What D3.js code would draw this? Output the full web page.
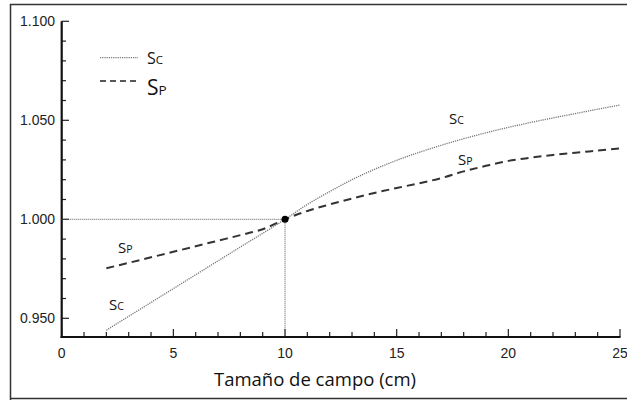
<!DOCTYPE html>
<html><head><meta charset="utf-8">
<script src="https://cdn.jsdelivr.net/npm/d3@7"></script>
<style>body{margin:0;background:#fff}svg{display:block}</style>
</head><body>
<svg id="c" width="627" height="400"></svg>
<script>
// Data
const scX = [2, 4, 6, 8, 10, 11, 12, 13, 14, 15, 16, 17, 18, 19, 20, 21, 22, 23, 24, 25];
const scY = [0.944, 0.958, 0.972, 0.986, 1.000, 1.0075, 1.0140, 1.0200, 1.0252, 1.0298, 1.0338, 1.0374, 1.0407, 1.0437, 1.0464, 1.0489, 1.0512, 1.0534, 1.0556, 1.0577];
const spX = [2, 3, 4, 5, 6, 7, 8, 9, 10, 11, 12, 13, 14, 15, 16, 17, 18, 19, 20, 21, 22, 23, 24, 25];
const spY = [0.9753, 0.9780, 0.9808, 0.9836, 0.9864, 0.9892, 0.9920, 0.9950, 1.000, 1.0042, 1.0075, 1.0105, 1.0133, 1.0158, 1.0182, 1.0208, 1.0242, 1.0270, 1.0295, 1.0311, 1.0325, 1.0336, 1.0347, 1.0358];
const xTicks = [0, 5, 10, 15, 20, 25];
const yTicks = [0.950, 1.000, 1.050, 1.100];
const refPoint = [10, 1.000];
const xLabel = "Tamaño de campo (cm)";

const svg = d3.select("#c");
// outer frame
svg.append("path").attr("d","M10.5,700 L10.5,4.5 L700,4.5 M10.5,398.5 L700,398.5")
  .attr("fill","none").attr("stroke","#333").attr("stroke-width",1.5);

const x = d3.scaleLinear().domain([0,25]).range([61.7,620]);
const y = d3.scaleLinear().domain([0.950,1.000]).range([318.3,219.3]);
const y1 = 1.100;

// minor ticks
const g = svg.append("g");
const xMinor = d3.range(0,26,1);
g.selectAll(".xm").data(xMinor).join("line")
  .attr("x1",d=>x(d)).attr("x2",d=>x(d)).attr("y1",337).attr("y2",d=>d%5===0?329:332)
  .attr("stroke","#222").attr("stroke-width",1.2);
const yMinor = d3.range(95,111,1).map(v=>v/100);
g.selectAll(".ym").data(yMinor).join("line")
  .attr("x1",61.7).attr("x2",d=>(Math.round(d*100)%5===0)?69:66).attr("y1",d=>y(d)).attr("y2",d=>y(d))
  .attr("stroke","#222").attr("stroke-width",1.2);

// axes lines
g.append("line").attr("x1",61.7).attr("x2",61.7).attr("y1",y(y1)).attr("y2",338).attr("stroke","#111").attr("stroke-width",2.2);
g.append("line").attr("x1",60.6).attr("x2",x(25)+0.5).attr("y1",337).attr("y2",337).attr("stroke","#111").attr("stroke-width",2.2);

// tick labels
g.selectAll(".xl").data(xTicks).join("text")
  .attr("x",d=>x(d)).attr("y",358).attr("text-anchor","middle")
  .attr("font-family","Liberation Sans, Arial, sans-serif").attr("font-size",14).attr("fill","#222")
  .text(d=>d);
g.selectAll(".yl").data(yTicks).join("text")
  .attr("x",55).attr("y",d=>y(d)+5).attr("text-anchor","end")
  .attr("font-family","Liberation Sans, Arial, sans-serif").attr("font-size",14).attr("fill","#222")
  .text(d=>d3.format(".3f")(d));

svg.append("text").attr("x",315).attr("y",386).attr("text-anchor","middle")
  .attr("font-family","Open Sans, Noto Sans, sans-serif").attr("font-size",18.5).attr("fill","#111")
  .text(xLabel);

// reference lines
svg.append("line").attr("x1",x(0)).attr("x2",x(refPoint[0])).attr("y1",y(refPoint[1])).attr("y2",y(refPoint[1]))
  .attr("stroke","#555").attr("stroke-width",1).attr("stroke-dasharray","1,1");
svg.append("line").attr("x1",x(refPoint[0])).attr("x2",x(refPoint[0])).attr("y1",y(refPoint[1])).attr("y2",337)
  .attr("stroke","#555").attr("stroke-width",1).attr("stroke-dasharray","1,1");

const line = d3.line().x(d=>x(d[0])).y(d=>y(d[1])).curve(d3.curveMonotoneX);
svg.append("path").attr("d",line(scX.map((v,i)=>[v,scY[i]])))
  .attr("fill","none").attr("stroke","#777").attr("stroke-width",1.3).attr("stroke-dasharray","1.2,1");
svg.append("path").attr("d",line(spX.map((v,i)=>[v,spY[i]])))
  .attr("fill","none").attr("stroke","#333").attr("stroke-width",2).attr("stroke-dasharray","8,5");

svg.append("circle").attr("cx",x(refPoint[0])).attr("cy",y(refPoint[1])).attr("r",3.5).attr("fill","#000");

// labels
function slabel(xp, yp, sub, big, small){
  const t = svg.append("text").attr("x",xp).attr("y",yp)
    .attr("font-family","Open Sans, Noto Sans, sans-serif").attr("fill","#111");
  t.append("tspan").attr("font-size",big).text("S");
  t.append("tspan").attr("font-size",small).text(sub);
}
slabel(109, 310, "C", 15, 10.5);
slabel(118, 253, "P", 15, 10.5);
slabel(449, 124, "C", 15, 10.5);
slabel(458, 165, "P", 15, 10.5);

// legend
svg.append("line").attr("x1",100).attr("x2",138).attr("y1",57.7).attr("y2",57.7)
  .attr("stroke","#777").attr("stroke-width",1.2).attr("stroke-dasharray","1.2,1");
svg.append("line").attr("x1",100).attr("x2",138).attr("y1",81).attr("y2",81)
  .attr("stroke","#222").attr("stroke-width",1.5).attr("stroke-dasharray","6,4");
slabel(147, 64, "C", 16, 11.5);
slabel(147, 95, "P", 21, 13.5);
</script>
</body></html>
